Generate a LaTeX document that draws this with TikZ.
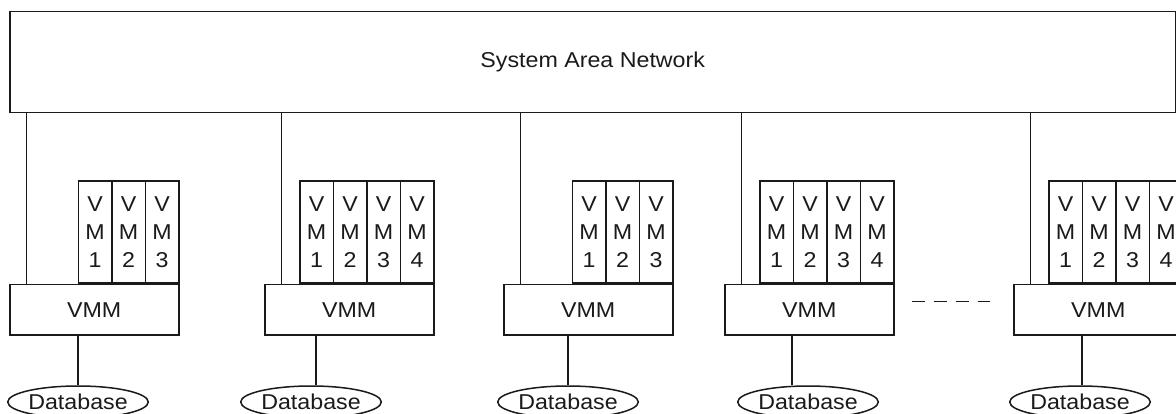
\documentclass[tikz,border=0pt]{standalone}
\usepackage{fontspec}
\setmainfont{Liberation Sans}[FakeStretch=1.08]
\usetikzlibrary{shapes.geometric}
\definecolor{linec}{HTML}{1A1A1A}
\definecolor{textc}{HTML}{1A1A1A}
\begin{document}
\begin{tikzpicture}[x=1pt,y=-1pt,
  box/.style={draw=linec, line width=1.5pt, rectangle, inner sep=0pt,
    text=textc, font=\fontsize{21.5}{25}\selectfont},
  vmbox/.style={box, minimum width=33.5pt, minimum height=102pt,
    align=center, font=\fontsize{21.5}{28}\selectfont},
  vmmbox/.style={box, minimum width=169pt, minimum height=50pt},
  dbnode/.style={ellipse, draw=linec, line width=1.5pt, inner sep=0pt,
    minimum width=135pt, minimum height=32pt, text=textc,
    font=\fontsize{21.5}{25}\selectfont},
  link/.style={draw=linec, line width=1.5pt}]
\useasboundingbox (0,0) rectangle (1176,414);
\clip (0,0) rectangle (1176,414);

% network backbone
\node[box, anchor=north west, minimum width=1166pt, minimum height=101pt]
  (san) at (9,11) {System Area Network};

% hosts: number / VMM left edge / VM count / database link x / database x
\foreach \n/\l/\c/\lx/\dx in {1/9/3/78/78, 2/264/4/316/311, 3/503/3/568/568,
                              4/724/4/792/808, 5/1013/4/1082/1080}{
  \node[vmmbox, anchor=north west] (vmm\n) at (\l,284) {VMM};
  \foreach \k in {1,...,\c}{
    \node[vmbox, anchor=south west] (vm\n-\k)
      at ({\l+169-(\c-\k+1)*33.5},284) {V\\M\\\k};
  }
  \draw[link] ([xshift=17.5pt]vmm\n.north west) -- ([xshift=17.5pt]vmm\n.north west |- san.south);
  \node[dbnode] (db\n) at (\dx,402) {Database};
  \coordinate (dbl\n) at (\lx,0);
  \draw[link] (vmm\n.south -| dbl\n) -- (db\n.north -| dbl\n);
}

% further hosts omitted
\draw[link, line width=1.2pt, dash pattern=on 13pt off 9pt]
  ([xshift=17pt,yshift=8pt]vmm4.east) -- ([xshift=-23pt,yshift=8pt]vmm5.west);
\end{tikzpicture}
\end{document}
